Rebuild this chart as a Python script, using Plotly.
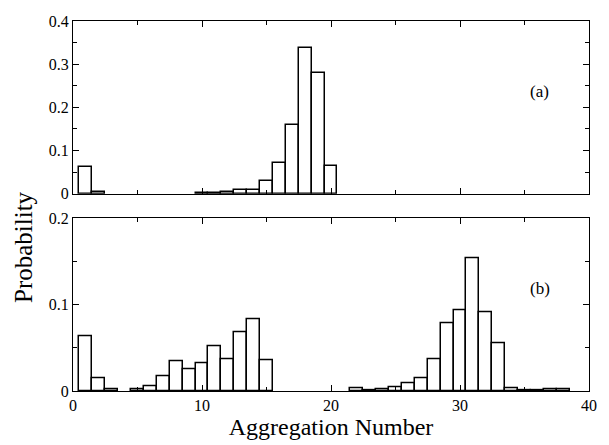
import plotly.graph_objects as go

# Panel (a)
a_x = [1, 2, 10, 11, 12, 13, 14, 15, 16, 17, 18, 19, 20]
a_y = [0.061, 0.005, 0.001, 0.001, 0.003, 0.008, 0.008, 0.030, 0.072, 0.159, 0.337, 0.279, 0.064]

# Panel (b)
b_x = [1, 2, 3, 5, 6, 7, 8, 9, 10, 11, 12, 13, 14, 15,
       22, 23, 24, 25, 26, 27, 28, 29, 30, 31, 32, 33, 34, 35, 36, 37, 38]
b_y = [0.0636, 0.0152, 0.0015, 0.0015, 0.005, 0.0168, 0.0343, 0.0251, 0.032, 0.0518, 0.037, 0.0674, 0.0834, 0.0358,
       0.0027, 0.0008, 0.0015, 0.004, 0.0084, 0.0152, 0.0362, 0.0789, 0.0933, 0.154, 0.0914, 0.0552, 0.0034, 0.0005, 0.0005, 0.002, 0.0015]

FONT = "Liberation Serif, Times New Roman, serif"

fig = go.Figure()
bar_style = dict(width=1, marker=dict(color="white", line=dict(color="black", width=1.5)), showlegend=False)
fig.add_trace(go.Bar(x=a_x, y=a_y, xaxis="x2", yaxis="y2", **bar_style))
fig.add_trace(go.Bar(x=b_x, y=b_y, xaxis="x", yaxis="y", **bar_style))

axis_common = dict(showline=True, linecolor="black", linewidth=1.2, mirror="ticks",
                   ticks="inside", ticklen=6, tickcolor="black", tickwidth=1,
                   showgrid=False, zeroline=False,
                   tickfont=dict(family=FONT, size=16, color="black"))

fig.update_layout(
    width=609, height=445,
    margin=dict(l=73, r=12, t=21, b=49),
    plot_bgcolor="white", paper_bgcolor="white",
    bargap=0,
    font=dict(family=FONT, color="black"),
    xaxis=dict(domain=[0, 1], range=[0, 40], tickvals=[0, 10, 20, 30, 40],
               minor=dict(ticks="inside", tickvals=[5, 15, 25, 35], ticklen=4, tickcolor="black"),
               title=dict(text="Aggregation Number", font=dict(family=FONT, size=24), standoff=2),
               anchor="y", **axis_common),
    yaxis=dict(domain=[0, 175/375], range=[0, 0.2], tickvals=[0, 0.1, 0.2], ticktext=["0", "0.1", "0.2"],
               minor=dict(ticks="inside", tickvals=[0.05, 0.15], ticklen=4, tickcolor="black"),
               anchor="x", **axis_common),
    xaxis2=dict(domain=[0, 1], range=[0, 40], tickvals=[0, 10, 20, 30, 40], showticklabels=False,
                minor=dict(ticks="inside", tickvals=[5, 15, 25, 35], ticklen=4, tickcolor="black"),
                anchor="y2", **axis_common),
    yaxis2=dict(domain=[200/375, 1], range=[0, 0.4], tickvals=[0, 0.1, 0.2, 0.3, 0.4],
                ticktext=["0", "0.1", "0.2", "0.3", "0.4"],
                minor=dict(ticks="inside", tickvals=[0.05, 0.15, 0.25, 0.35], ticklen=4, tickcolor="black"),
                anchor="x2", **axis_common),
    annotations=[
        dict(text="(a)", x=36.2, y=0.237, xref="x2", yref="y2", showarrow=False,
             xanchor="center", yanchor="middle",
             font=dict(family=FONT, size=17, color="black")),
        dict(text="(b)", x=36.2, y=0.1185, xref="x", yref="y", showarrow=False,
             xanchor="center", yanchor="middle",
             font=dict(family=FONT, size=17, color="black")),
        dict(text="Probability", x=-0.097, y=0.389, xref="paper", yref="paper", textangle=-90,
             xanchor="center", yanchor="middle",
             showarrow=False, font=dict(family=FONT, size=25, color="black")),
    ],
)

fig.write_html("out.html")
